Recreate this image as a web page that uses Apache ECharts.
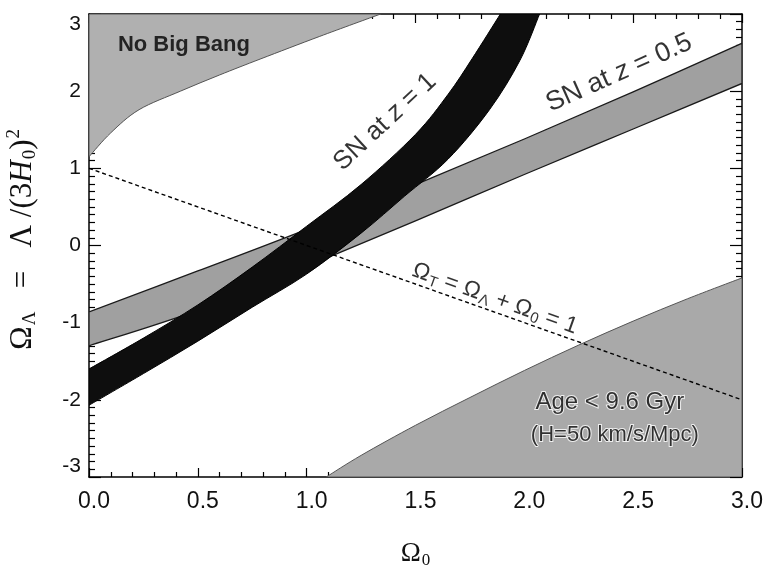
<!DOCTYPE html>
<html>
<head>
<meta charset="utf-8">
<script src="https://cdn.jsdelivr.net/npm/echarts@6/dist/echarts.min.js"></script>
<style>
  html, body { margin: 0; padding: 0; background: #fff; }
  #chart { width: 765px; height: 567px; }
</style>
</head>
<body>
<div id="chart"></div>
<script>
// Constraints in the (Omega_0, Omega_Lambda) plane.

// Axis ranges
const omega0Range = [0, 3];
const omegaLambdaRange = [-3, 3];

// Supernovae at z = 1: edges of the band, [Omega_0, Omega_Lambda]
const snZ1Upper = [[0, -1.60], [0.25, -1.20], [0.5, -0.77], [0.75, -0.28], [1.0, 0.25],
                   [1.25, 0.79], [1.5, 1.44], [1.65, 1.96], [1.76, 2.42], [1.89, 3.0]];
const snZ1Lower = [[0, -2.07], [0.25, -1.66], [0.5, -1.24], [0.75, -0.80], [1.0, -0.37],
                   [1.25, 0.16], [1.45, 0.64], [1.65, 1.12], [1.84, 1.76], [1.98, 2.40], [2.07, 3.0]];

// Supernovae at z = 0.5
const snZ05Upper = [[0, -0.86], [0.5, -0.33], [1.0, 0.21], [1.5, 0.79], [2.0, 1.38], [2.5, 1.99], [3.0, 2.62]];
const snZ05Lower = [[0, -1.30], [0.5, -0.84], [1.0, -0.27], [1.5, 0.32], [2.0, 0.92], [2.5, 1.51], [3.0, 2.10]];

// Boundary of the "no big bang" region (region lies above it)
const noBigBangEdge = [[0, 1.15], [0.1, 1.46], [0.23, 1.76], [0.42, 2.00], [0.6, 2.21],
                       [0.79, 2.42], [1.06, 2.71], [1.34, 3.0]];

// Boundary of the age < 9.6 Gyr region (region lies below it)
const youngAgeEdge = [[1.09, -3.0], [1.25, -2.72], [1.5, -2.33], [1.75, -1.97], [2.0, -1.62],
                      [2.25, -1.29], [2.5, -0.98], [2.75, -0.69], [3.0, -0.42]];

// Flat universe: Omega_Lambda + Omega_0 = 1
const flatLine = [[0, 1], [3, -2]];

const chart = echarts.init(document.getElementById('chart'), null, { renderer: 'canvas' });

// SVG path segments of a smooth curve (Catmull-Rom as cubic Beziers) through pixel points
function smoothSegments(px, moveFirst) {
  let d = (moveFirst ? 'M' : 'L') + px[0][0] + ' ' + px[0][1];
  for (let i = 0; i < px.length - 1; i++) {
    const p0 = px[Math.max(i - 1, 0)], p1 = px[i], p2 = px[i + 1], p3 = px[Math.min(i + 2, px.length - 1)];
    const c1 = [p1[0] + (p2[0] - p0[0]) / 6, p1[1] + (p2[1] - p0[1]) / 6];
    const c2 = [p2[0] - (p3[0] - p1[0]) / 6, p2[1] - (p3[1] - p1[1]) / 6];
    d += ' C' + c1[0] + ' ' + c1[1] + ' ' + c2[0] + ' ' + c2[1] + ' ' + p2[0] + ' ' + p2[1];
  }
  return d;
}

// Filled region bounded by one or two smooth edges plus straight closing corners
function region(name, edges, corners, fill, stroke, lineWidth, z) {
  return {
    type: 'custom',
    name: name,
    coordinateSystem: 'cartesian2d',
    xAxisIndex: 0,
    yAxisIndex: 0,
    clip: true,
    silent: true,
    z: z,
    data: [edges[0][0]],
    renderItem: function (params, api) {
      const toPx = function (p) { return api.coord(p); };
      let d = '';
      edges.forEach(function (edge, k) { d += (k ? ' ' : '') + smoothSegments(edge.map(toPx), k === 0); });
      corners.forEach(function (c) { const q = toPx(c); d += ' L' + q[0] + ' ' + q[1]; });
      d += ' Z';
      return {
        type: 'path',
        shape: { pathData: d },
        style: { fill: fill, stroke: stroke, lineWidth: lineWidth }
      };
    }
  };
}

const sansFont = '"Liberation Sans", Arial, Helvetica, sans-serif';
const serifFont = '"Liberation Serif", "Times New Roman", serif';

function note(value, text, rotate, size, extra) {
  return {
    value: value,
    label: Object.assign({
      show: true,
      position: 'inside',
      formatter: text,
      rotate: rotate,
      fontFamily: sansFont,
      fontSize: size,
      color: '#000'
    }, extra || {})
  };
}

const halo = { textBorderColor: '#ffffff', textBorderWidth: 2 };

function frameAxis(extra) {
  return Object.assign({
    type: 'value',
    axisLine: { show: true, onZero: false, lineStyle: { color: '#000', width: 1.5 } },
    axisTick: { show: true, inside: true, lineStyle: { color: '#000', width: 1.2 } },
    minorTick: { show: true, lineStyle: { color: '#000', width: 1.2 } },
    splitLine: { show: false },
    axisLabel: { show: false }
  }, extra);
}

const option = {
  backgroundColor: '#ffffff',
  animation: false,
  grid: { left: 89, right: 23, top: 14, bottom: 90, containLabel: false, outerBoundsMode: 'none' },
  xAxis: [
    frameAxis({
      min: omega0Range[0], max: omega0Range[1], interval: 0.5, position: 'bottom',
      axisTick: { show: true, inside: true, length: 9, lineStyle: { color: '#000', width: 1.2 } },
      minorTick: { show: true, splitNumber: 5, length: 5, lineStyle: { color: '#000', width: 1.2 } },
      axisLabel: {
        show: true, margin: 13, color: '#111', fontFamily: sansFont, fontSize: 23,
        padding: [0, 0, 0, 10],
        formatter: function (v) { return v.toFixed(1); }
      },
      name: '{o|Ω}{s|0}',
      nameLocation: 'middle',
      nameGap: 62,
      nameTextStyle: {
        rich: {
          o: { fontFamily: serifFont, fontSize: 27, color: '#111' },
          s: { fontFamily: serifFont, fontSize: 17, color: '#111', padding: [13, 0, 0, 1] }
        }
      }
    }),
    frameAxis({
      min: omega0Range[0], max: omega0Range[1], interval: 0.5, position: 'top',
      axisTick: { show: true, inside: true, length: 9, lineStyle: { color: '#000', width: 1.2 } },
      minorTick: { show: true, splitNumber: 5, length: 5, lineStyle: { color: '#000', width: 1.2 } }
    })
  ],
  yAxis: [
    frameAxis({
      min: omegaLambdaRange[0], max: omegaLambdaRange[1], interval: 1, position: 'left',
      axisTick: { show: true, inside: true, length: 12, lineStyle: { color: '#000', width: 1.2 } },
      minorTick: { show: true, splitNumber: 10, length: 6, lineStyle: { color: '#000', width: 1.2 } },
      axisLabel: {
        show: true, margin: 8, color: '#111', fontFamily: sansFont, fontSize: 21,
        verticalAlignMinLabel: 'bottom', verticalAlignMaxLabel: 'top'
      },
      name: '{o|Ω}{s|Λ}{t|   =   Λ /(3}{i|H}{s|0}{t|)}{p|2}',
      nameLocation: 'middle',
      nameRotate: 90,
      nameGap: 48,
      nameTextStyle: {
        padding: [0, 0, 0, 12],
        rich: {
          o: { fontFamily: serifFont, fontSize: 32, color: '#111' },
          t: { fontFamily: serifFont, fontSize: 31, color: '#111' },
          i: { fontFamily: serifFont, fontSize: 31, fontStyle: 'italic', color: '#111' },
          s: { fontFamily: serifFont, fontSize: 19, color: '#111', padding: [15, 0, 0, 1] },
          p: { fontFamily: serifFont, fontSize: 19, color: '#111', padding: [0, 0, 17, 1] }
        }
      }
    }),
    frameAxis({
      min: omegaLambdaRange[0], max: omegaLambdaRange[1], interval: 1, position: 'right',
      axisTick: { show: true, inside: true, length: 12, lineStyle: { color: '#000', width: 1.2 } },
      minorTick: { show: true, splitNumber: 10, length: 6, lineStyle: { color: '#000', width: 1.2 } }
    })
  ],
  series: [
    region('No Big Bang', [noBigBangEdge], [[0, omegaLambdaRange[1]]], '#b0b0b0', '#555', 1, 1),
    region('Age < 9.6 Gyr', [youngAgeEdge], [[omega0Range[1], omegaLambdaRange[0]]], '#a9a9a9', '#555', 1, 1),
    region('SN at z = 0.5', [snZ05Upper, snZ05Lower.slice().reverse()], [], '#a0a0a0', '#1a1a1a', 1.3, 2),
    region('SN at z = 1', [snZ1Upper, snZ1Lower.slice().reverse()], [], '#0e0e0e', '#000', 1, 3),
    {
      type: 'line',
      name: 'Omega_T = 1',
      data: flatLine,
      showSymbol: false,
      symbol: 'none',
      silent: true,
      z: 4,
      lineStyle: { color: '#000', width: 1.4, type: [4, 3] }
    },
    {
      type: 'scatter',
      name: 'notes',
      symbolSize: 1,
      silent: true,
      z: 6,
      itemStyle: { color: 'rgba(0,0,0,0)' },
      data: [
        note([0.436, 2.60], 'No Big Bang', 0, 22, { fontWeight: 'bold' }),
        note([1.36, 1.60], '{t|SN at }{i|z}{t| = 1}', 43, 26, {
          rich: {
            t: { fontFamily: sansFont, fontSize: 26, color: '#000' },
            i: { fontFamily: sansFont, fontSize: 26, fontStyle: 'italic', color: '#000' }
          }
        }),
        note([2.435, 2.235], '{t|SN at }{i|z}{t| = 0.5}', 24, 27, {
          rich: {
            t: { fontFamily: sansFont, fontSize: 27, color: '#000' },
            i: { fontFamily: sansFont, fontSize: 27, fontStyle: 'italic', color: '#000' }
          }
        }),
        note([1.865, -0.69], '{o|Ω}{s|T}{o| = Ω}{s|Λ}{o| + Ω}{s|0}{o| = 1}', -19.6, 23, {
          rich: {
            o: { fontFamily: sansFont, fontSize: 23, color: '#000' },
            s: { fontFamily: sansFont, fontSize: 15, color: '#000', padding: [11, 0, 0, 1] }
          }
        }),
        note([2.393, -2.03], 'Age < 9.6 Gyr', 0, 24, halo),
        note([2.416, -2.455], '(H=50 km/s/Mpc)', 0, 22, halo)
      ]
    }
  ]
};

chart.setOption(option);
</script>
</body>
</html>
